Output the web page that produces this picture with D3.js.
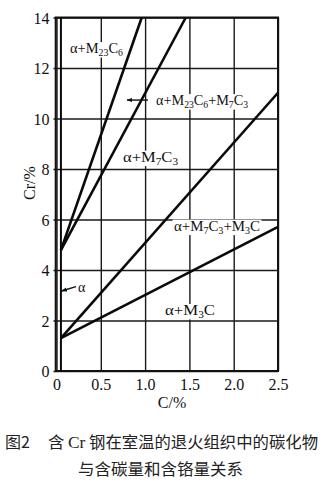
<!DOCTYPE html>
<html>
<head>
<meta charset="utf-8">
<script src="https://cdn.jsdelivr.net/npm/d3@7"></script>
<style>
  html, body { margin: 0; padding: 0; background: #fff; }
  svg { display: block; }
</style>
</head>
<body>
<svg id="chart" width="325" height="482"></svg>
<script>
// Axis ticks
const xTicks = [0, 0.5, 1.0, 1.5, 2.0, 2.5];
const xTickLabels = ["0", "0.5", "1.0", "1.5", "2.0", "2.5"];
const yTicks = [0, 2, 4, 6, 8, 10, 12, 14];

// Phase boundaries, [C %, Cr %]
const alphaLimit   = [[0.05, 0], [0.05, 14]];
const m23c6Limit   = [[0.05, 4.79], [0.962, 14]];
const m7c3Limit    = [[0.05, 4.79], [1.459, 14]];
const m3cUpper     = [[0.05, 1.3], [2.5, 11.02]];
const m3cLower     = [[0.05, 1.3], [2.5, 5.71]];
const boundaries = [alphaLimit, m23c6Limit, m7c3Limit, m3cUpper, m3cLower];

// Phase-field names: [C, Cr] of the text start, and its parts (text, subscript)
const fieldNames = ["α+M23C6", "α+M23C6+M7C3", "α+M7C3", "α+M7C3+M3C", "α+M3C", "α"];
const fieldAnchors = [[0.152, 12.59], [1.123, 10.53], [0.751, 8.29], [1.326, 5.56], [1.225, 2.22], [0.243, 3.13]];
const fieldParts = [
  [["α+M", ""], ["", "23"], ["C", ""], ["", "6"]],
  [["α+M", ""], ["", "23"], ["C", ""], ["", "6"], ["+M", ""], ["", "7"], ["C", ""], ["", "3"]],
  [["α+M", ""], ["", "7"], ["C", ""], ["", "3"]],
  [["α+M", ""], ["", "7"], ["C", ""], ["", "3"], ["+M", ""], ["", "3"], ["C", ""]],
  [["α+M", ""], ["", "3"], ["C", ""]],
  [["α", ""]]
];
const fieldWidths = [53, 92, 55, 86, 50, 0];

// Leader arrows: [from, to] in [C, Cr]
const arrows = [
  [[1.033, 10.73], [0.796, 10.73]],
  [[0.22, 3.34], [0.056, 3.17]]
];

const captionLine1a = "图2";
const captionLine1b = ["含 ", "Cr", " 钢在室温的退火组织中的碳化物"];
const captionLine2 = "与含碳量和含铬量关系";

const svg = d3.select("#chart");
const serif = "'Liberation Serif', 'Times New Roman', serif";
const cjk = "'Noto Sans CJK SC', sans-serif";

const x = d3.scaleLinear().domain([0, 2.5]).range([56.5, 278]);
const y = d3.scaleLinear().domain([0, 14]).range([371, 17.5]);

const g = svg.append("g");

// grid via axes
g.append("g")
  .attr("transform", `translate(${x(0)},0)`)
  .call(d3.axisLeft(y).tickValues(yTicks).tickSize(-(x(2.5) - x(0)) - 0).tickSizeOuter(0).tickFormat(d => d))
  .call(a => a.select(".domain").remove())
  .call(a => a.selectAll(".tick line").attr("x1", -3).attr("stroke", "#1a1a1a").attr("stroke-width", 1.4))
  .call(a => a.selectAll(".tick text")
      .attr("x", -7).attr("dy", "0.36em")
      .attr("font-family", serif).attr("font-size", 16).attr("fill", "#111"));

g.append("g")
  .attr("transform", `translate(0,${y(0)})`)
  .call(d3.axisBottom(x).tickValues(xTicks).tickSize(-(y(0) - y(14))).tickSizeOuter(0)
        .tickFormat((d, i) => xTickLabels[i]))
  .call(a => a.select(".domain").remove())
  .call(a => a.selectAll(".tick line").attr("stroke", "#1a1a1a").attr("stroke-width", 1.4))
  .call(a => a.selectAll(".tick text")
      .attr("y", 18.5)
      .attr("dy", 0)
      .attr("font-family", serif).attr("font-size", 16).attr("fill", "#111"));

// frame
g.append("rect")
  .attr("x", x(0) - 0.8).attr("y", y(14))
  .attr("width", x(2.5) - x(0) + 0.8).attr("height", y(0) - y(14))
  .attr("fill", "none").attr("stroke", "#111").attr("stroke-width", 2);

// label backgrounds + labels
const labelLayer = g.append("g");
fieldNames.forEach((name, i) => {
  const t = labelLayer.append("text")
    .attr("x", x(fieldAnchors[i][0]))
    .attr("y", y(fieldAnchors[i][1]))
    .attr("font-family", serif).attr("font-size", 14).attr("fill", "#111");
  fieldParts[i].forEach(([main, sub]) => {
    if (main) t.append("tspan").text(main);
    if (sub) t.append("tspan").attr("font-size", 9.5).attr("baseline-shift", "-25%").text(sub);
  });
  if (fieldWidths[i]) t.attr("textLength", fieldWidths[i]).attr("lengthAdjust", "spacingAndGlyphs");
  const bb = t.node().getBBox();
  labelLayer.insert("rect", "text")
    .attr("x", bb.x - 1.5).attr("y", bb.y + 1).attr("width", bb.width + 3).attr("height", bb.height - 1)
    .attr("fill", "#fff");
});

// boundary lines
const line = d3.line().x(d => x(d[0])).y(d => y(d[1]));
g.selectAll("path.boundary")
  .data(boundaries)
  .join("path")
  .attr("class", "boundary")
  .attr("d", line)
  .attr("fill", "none")
  .attr("stroke", "#0a0a0a")
  .attr("stroke-width", (d, i) => i === 0 ? 2 : 2.6)
  .attr("stroke-linecap", "butt");

// leader arrows
svg.append("defs").append("marker")
  .attr("id", "head").attr("viewBox", "0 0 10 10")
  .attr("refX", 9).attr("refY", 5)
  .attr("markerWidth", 6).attr("markerHeight", 6)
  .attr("markerUnits", "userSpaceOnUse")
  .attr("orient", "auto")
  .append("path").attr("d", "M0,1.5 L10,5 L0,8.5 Z").attr("fill", "#111");

g.selectAll("line.leader")
  .data(arrows)
  .join("line")
  .attr("class", "leader")
  .attr("x1", d => x(d[0][0])).attr("y1", d => y(d[0][1]))
  .attr("x2", d => x(d[1][0])).attr("y2", d => y(d[1][1]))
  .attr("stroke", "#111").attr("stroke-width", 1.4)
  .attr("marker-end", "url(#head)");

// axis titles
svg.append("text")
  .attr("x", 172).attr("y", 408)
  .attr("text-anchor", "middle")
  .attr("font-family", serif).attr("font-size", 16).attr("fill", "#111")
  .text("C/%");

svg.append("text")
  .attr("transform", "translate(35,183) rotate(-90)")
  .attr("text-anchor", "middle")
  .attr("font-family", serif).attr("font-size", 16).attr("fill", "#111")
  .text("Cr/%");

// caption
svg.append("text")
  .attr("x", 5).attr("y", 448)
  .attr("font-family", cjk).attr("font-size", 16).attr("fill", "#222")
  .text(captionLine1a);

const cap = svg.append("text")
  .attr("x", 48).attr("y", 448)
  .attr("font-family", cjk).attr("font-size", 16).attr("fill", "#222")
  .attr("textLength", 270).attr("lengthAdjust", "spacingAndGlyphs");
captionLine1b.forEach((s, i) => {
  cap.append("tspan").attr("font-family", i === 1 ? serif : cjk).attr("font-size", i === 1 ? 17 : 16).text(s);
});

svg.append("text")
  .attr("x", 78).attr("y", 475)
  .attr("font-family", cjk).attr("font-size", 16).attr("fill", "#222")
  .attr("textLength", 165).attr("lengthAdjust", "spacingAndGlyphs")
  .text(captionLine2);
</script>
</body>
</html>
